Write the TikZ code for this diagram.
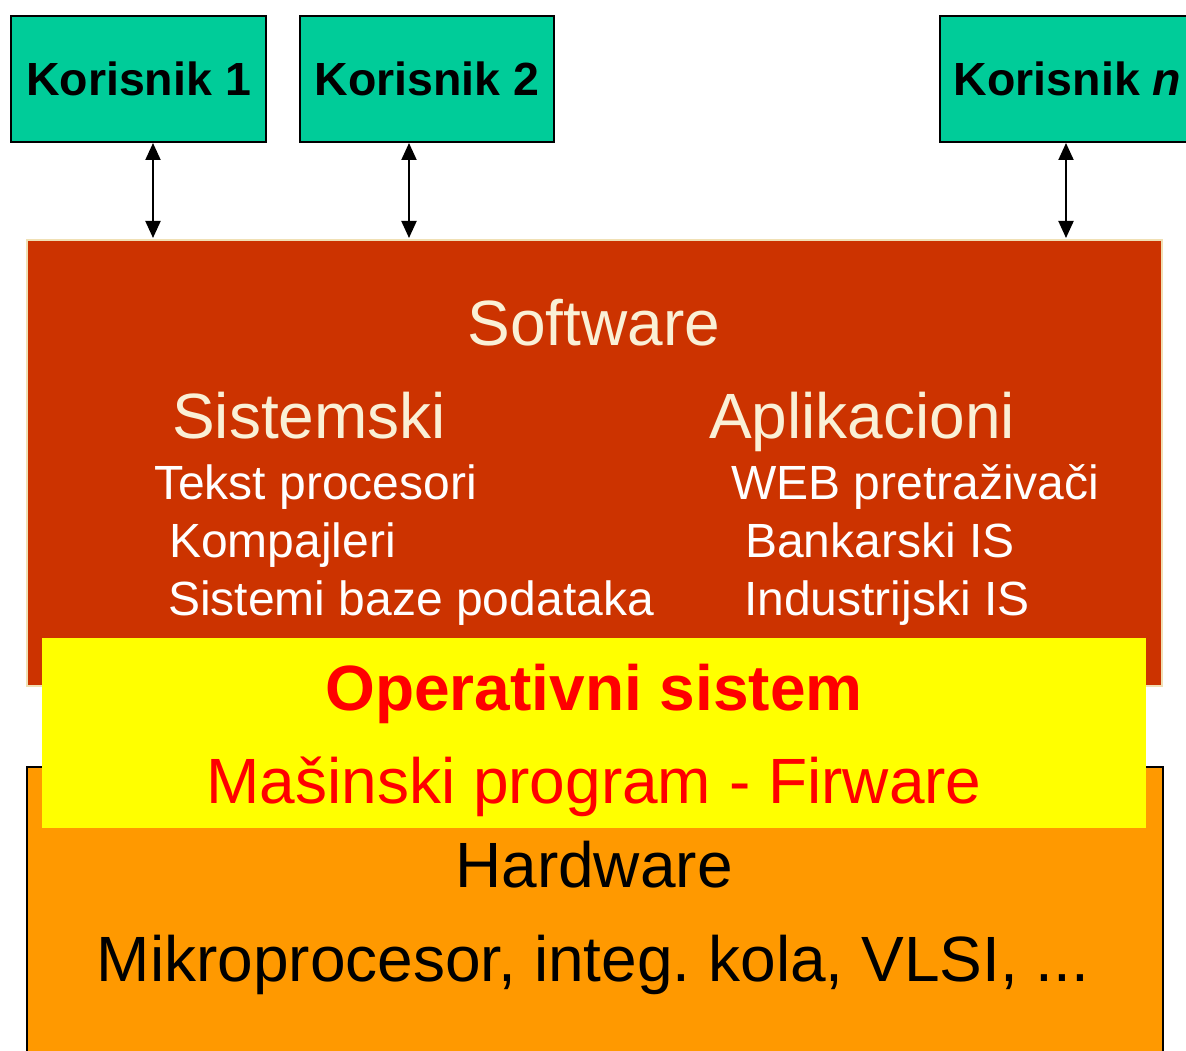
\documentclass[tikz,border=0pt]{standalone}
\usepackage{fontspec}
\setmainfont{Liberation Sans}
\frenchspacing
\usetikzlibrary{arrows.meta}
\definecolor{userteal}{HTML}{00CC99}
\definecolor{swred}{HTML}{CC3300}
\definecolor{swborder}{HTML}{F0E0B4}
\definecolor{cream}{HTML}{FAF0D6}
\definecolor{hworange}{HTML}{FF9900}
\definecolor{osyellow}{HTML}{FFFF00}
\definecolor{osred}{HTML}{FF0000}
\tikzset{
  userbox/.style={draw=black, line width=2pt, fill=userteal, anchor=north west, inner sep=0pt,
    minimum width=255pt, minimum height=126pt,
    font=\fontsize{46.5}{50}\selectfont\bfseries},
  biglabel/.style={anchor=base, inner sep=0pt, font=\fontsize{64}{66}\selectfont},
  itemlabel/.style={anchor=base west, inner sep=0pt, text=white, font=\fontsize{48}{50}\selectfont},
  link/.style={line width=2pt, {Triangle[length=17pt,width=15pt]}-{Triangle[length=17pt,width=15pt]}}
}
\begin{document}
\begin{tikzpicture}[x=1pt,y=-1pt]
\useasboundingbox (0,0) rectangle (1186,1051);
\clip (0,0) rectangle (1186,1051);
\fill[white] (0,0) rectangle (1186,1051);

% users
\node[userbox] (k1) at (10,15) {Korisnik 1};
\node[userbox, minimum width=254pt] (k2) at (299,15) {Korisnik 2};
\node[userbox] (kn) at (939,15) {Korisnik \textit{n}};

% hardware
\node[draw=black, line width=2pt, fill=hworange, anchor=north west, inner sep=0pt,
  minimum width=1136pt, minimum height=300pt] (hw) at (26,766) {};
% software
\node[draw=swborder, line width=2pt, fill=swred, anchor=north west, inner sep=0pt,
  minimum width=1135pt, minimum height=446pt] (sw) at (26,239) {};
% operating system
\node[fill=osyellow, anchor=north west, inner sep=0pt,
  minimum width=1104pt, minimum height=190pt] (os) at (42,638) {};

% connectors
\coordinate (t1) at (153,238);
\coordinate (t2) at (409,238);
\coordinate (tn) at (1066,238);
\draw[link] (k1.south -| t1) -- (t1);
\draw[link] (k2.south -| t2) -- (t2);
\draw[link] (kn.south -| tn) -- (tn);

% software texts
\node[biglabel, text=cream] (swt) at (594,345) {Software};
\node[biglabel, text=cream, anchor=base west] (sis) at (172,438) {Sistemski};
\node[biglabel, text=cream, anchor=base west] (apl) at (709,438) {Aplikacioni};
\node[itemlabel] (i1) at (154,499) {Tekst procesori};
\node[itemlabel] (i2) at (169,557) {Kompajleri};
\node[itemlabel] (i3) at (168,615) {Sistemi baze podataka};
\node[itemlabel] (a1) at (731,499) {WEB pretraživači};
\node[itemlabel] (a2) at (745,557) {Bankarski IS};
\node[itemlabel] (a3) at (744,615) {Industrijski IS};

% OS texts
\node[biglabel, text=osred, font=\fontsize{64}{66}\selectfont\bfseries] (ost) at (594,710) {Operativni sistem};
\node[biglabel, text=osred] (mp) at (594,803) {Mašinski program - Firware};

% hardware texts
\node[biglabel, text=black] (hwt) at (594,887) {Hardware};
\node[biglabel, text=black] (mk) at (593,981) {Mikroprocesor, integ. kola, VLSI, ...};
\end{tikzpicture}
\end{document}
